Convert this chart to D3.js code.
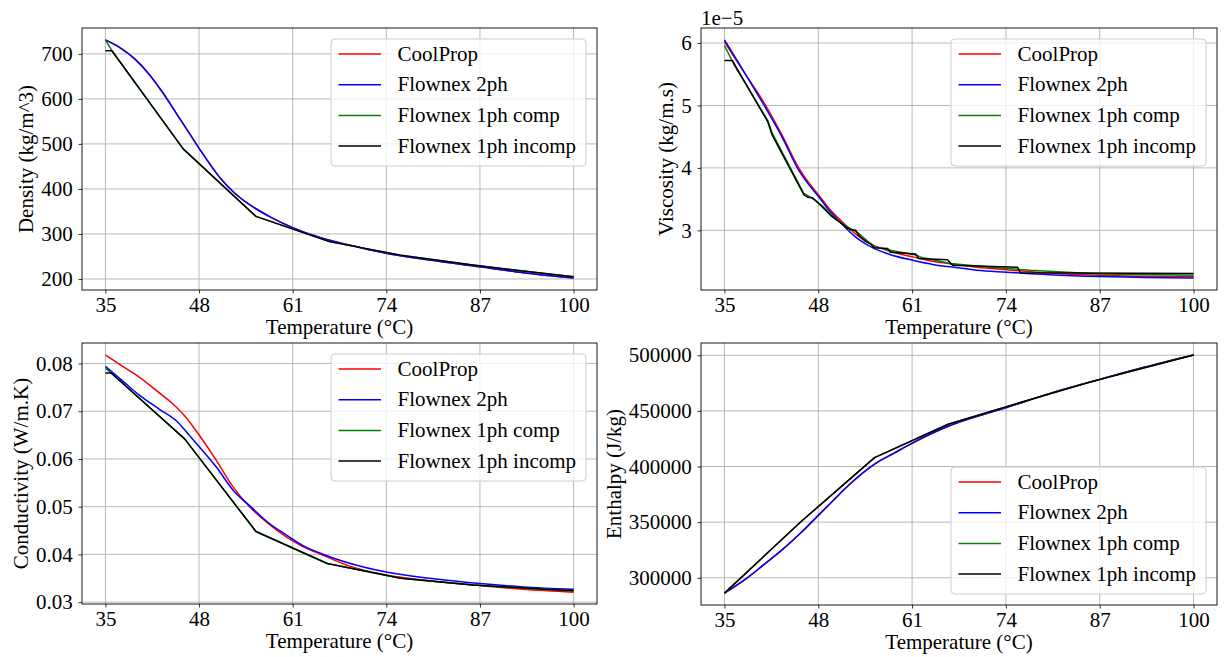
<!DOCTYPE html>
<html>
<head>
<meta charset="utf-8">
<script src="https://cdn.jsdelivr.net/npm/d3@7"></script>
<style>
  html, body { margin: 0; padding: 0; background: #fff; }
  svg { display: block; font-family: "Liberation Serif", "Times New Roman", serif; }
</style>
</head>
<body>
<svg id="fig" width="1225" height="657"></svg>
<script>
// ---------- shared axis values ----------
const tempTicks = [35, 48, 61, 74, 87, 100];
const seriesNames = ["CoolProp", "Flownex 2ph", "Flownex 1ph comp", "Flownex 1ph incomp"];
const seriesColors = ["#ff0000", "#0000ff", "#008000", "#000000"];

// ---------- density (kg/m^3) ----------
const densityT          = [35, 37, 39, 41, 43, 45, 47, 48.1, 50.9, 53, 55.9, 58, 61, 63.5, 66.1, 70, 74, 80, 87, 93, 100];
const densityCoolProp   = [731, 714, 690, 656, 613, 564, 515, 488, 425, 390, 356, 337, 314, 299, 286, 271, 257, 242, 227, 214, 202];
const densityFlownex2ph = [731, 714, 690, 656, 613, 564, 515, 488, 425, 390, 356, 337, 314, 299, 286, 271, 257, 242, 227, 214, 202];
const densityOnePhT     = [35, 35.9, 45.8, 55.9, 66.1, 76, 86, 96, 100];
const densityComp       = [731, 707, 489, 339, 283, 253, 231, 212, 205];
const densityIncomp     = [707, 707, 489, 339, 283, 253, 231, 212, 205];
const densityTicks      = [200, 300, 400, 500, 600, 700];

// ---------- viscosity (1e-5 kg/m.s) ----------
const viscosityT          = [35, 37.5, 40.5, 43, 45.3, 46.5, 48.1, 49.5, 51.1, 53.4, 55.7, 58, 61.1, 64, 67.3, 70, 74.1, 80, 87, 93, 100];
const viscosityCoolProp   = [6.02, 5.57, 5.04, 4.52, 4.00, 3.79, 3.56, 3.35, 3.16, 2.92, 2.76, 2.66, 2.575, 2.50, 2.45, 2.41, 2.37, 2.315, 2.28, 2.265, 2.255];
const viscosityFlownex2ph = [6.05, 5.58, 5.00, 4.49, 3.96, 3.76, 3.53, 3.32, 3.12, 2.87, 2.71, 2.61, 2.52, 2.45, 2.40, 2.36, 2.33, 2.29, 2.26, 2.245, 2.235];
const viscosityCompT      = [35, 36.3, 41, 41.6, 46, 47.2, 48.6, 50, 52, 53.5, 55.7, 58, 61.7, 62.2, 66.3, 71.9, 77.4, 87, 100];
const viscosityComp       = [5.96, 5.66, 4.76, 4.56, 3.59, 3.51, 3.39, 3.22, 3.06, 2.96, 2.74, 2.68, 2.60, 2.57, 2.47, 2.41, 2.36, 2.30, 2.28];
const viscosityIncompT    = [35, 36.1, 41, 41.6, 46.0, 46.5, 47.2, 47.6, 48.6, 49.7, 51.1, 52.0, 52.5, 53.2, 53.6, 54.6, 55.3, 55.7, 57.6, 58.0, 61.5, 61.9, 65.9, 66.6, 75.6, 76.0, 100];
const viscosityIncomp     = [5.72, 5.72, 4.74, 4.53, 3.57, 3.53, 3.52, 3.48, 3.37, 3.24, 3.12, 3.04, 3.01, 3.00, 2.92, 2.82, 2.78, 2.72, 2.71, 2.65, 2.62, 2.55, 2.53, 2.44, 2.41, 2.32, 2.31];
const viscosityTicks      = [3, 4, 5, 6];

// ---------- conductivity (W/m.K) ----------
const conductivityT          = [35, 37.5, 39.75, 42, 44.6, 46.2, 48.06, 50.4, 52.7, 55.0, 57.5, 60.1, 62.5, 65.1, 68.8, 74, 80, 87, 93, 100];
const conductivityCoolProp   = [0.0818, 0.0793, 0.0771, 0.0744, 0.0712, 0.0687, 0.0649, 0.0597, 0.0542, 0.0500, 0.0466, 0.0437, 0.0416, 0.0399, 0.0376, 0.0357, 0.0345, 0.0335, 0.0327, 0.0321];
const conductivity2phT       = [35, 37.5, 39.75, 42.5, 45.05, 46.5, 48.06, 50.4, 52.7, 55.4, 57.5, 60.1, 62.5, 65.1, 68.8, 74, 80, 87, 93, 100];
const conductivityFlownex2ph = [0.0794, 0.0762, 0.0733, 0.0704, 0.0677, 0.0652, 0.0625, 0.0583, 0.0535, 0.0497, 0.0468, 0.0441, 0.0418, 0.0401, 0.0382, 0.0363, 0.0350, 0.0339, 0.0332, 0.0327];
const conductivityOnePhT     = [35, 35.8, 46.0, 55.9, 65.8, 76, 86, 96, 100];
const conductivityComp       = [0.0790, 0.0780, 0.0642, 0.0448, 0.0381, 0.0350, 0.0336, 0.0327, 0.0324];
const conductivityIncomp     = [0.0780, 0.0780, 0.0642, 0.0448, 0.0381, 0.0350, 0.0336, 0.0327, 0.0324];
const conductivityTicks      = [0.03, 0.04, 0.05, 0.06, 0.07, 0.08];

// ---------- enthalpy (J/kg) ----------
const enthalpyT          = [35, 38.3, 40.5, 42.9, 45.7, 48.0, 50, 52.2, 55.9, 58.5, 60.9, 66.0, 69.7, 74.1, 80, 87.1, 93, 100];
const enthalpyCoolProp   = [286250, 300600, 312100, 324600, 341100, 356100, 369000, 383100, 402600, 412000, 420600, 436200, 444500, 453100, 465500, 478500, 489000, 500300];
const enthalpyFlownex2ph = [286250, 300600, 312100, 324600, 341100, 356100, 369000, 383100, 402600, 412000, 420600, 436200, 444500, 453100, 465500, 478500, 489000, 500300];
const enthalpyOnePhT     = [35, 45.7, 55.8, 66.0, 76, 86, 96, 100];
const enthalpyComp       = [286250, 351000, 408000, 438000, 457500, 476500, 493500, 500300];
const enthalpyIncomp     = [286250, 351000, 408000, 438000, 457500, 476500, 493500, 500300];
const enthalpyTicks      = [300000, 350000, 400000, 450000, 500000];

// ---------- panel definitions ----------
const zip = (a, b) => a.map((v, i) => [v, b[i]]);

const panels = [
  {
    box: { l: 82, t: 28, r: 597, b: 290 },
    yLabel: "Density (kg/m^3)", yTicks: densityTicks, fmt: d => String(d), legend: "upper",
    series: [
      { pts: zip(densityT, densityCoolProp), smooth: true },
      { pts: zip(densityT, densityFlownex2ph), smooth: true },
      { pts: zip(densityOnePhT, densityComp), smooth: false },
      { pts: zip(densityOnePhT, densityIncomp), smooth: false }
    ]
  },
  {
    box: { l: 701, t: 28, r: 1217, b: 290 },
    yLabel: "Viscosity (kg/m.s)", yTicks: viscosityTicks, fmt: d => String(d), legend: "upper",
    offsetText: "1e\u22125",
    series: [
      { pts: zip(viscosityT, viscosityCoolProp), smooth: true },
      { pts: zip(viscosityT, viscosityFlownex2ph), smooth: true },
      { pts: zip(viscosityCompT, viscosityComp), smooth: false },
      { pts: zip(viscosityIncompT, viscosityIncomp), smooth: false }
    ]
  },
  {
    box: { l: 82, t: 343, r: 597, b: 604 },
    yLabel: "Conductivity (W/m.K)", yTicks: conductivityTicks, fmt: d => d.toFixed(2), legend: "upper",
    series: [
      { pts: zip(conductivityT, conductivityCoolProp), smooth: true },
      { pts: zip(conductivity2phT, conductivityFlownex2ph), smooth: true },
      { pts: zip(conductivityOnePhT, conductivityComp), smooth: false },
      { pts: zip(conductivityOnePhT, conductivityIncomp), smooth: false }
    ]
  },
  {
    box: { l: 701, t: 343, r: 1217, b: 605 },
    yLabel: "Enthalpy (J/kg)", yTicks: enthalpyTicks, fmt: d => String(d), legend: "lower",
    series: [
      { pts: zip(enthalpyT, enthalpyCoolProp), smooth: true },
      { pts: zip(enthalpyT, enthalpyFlownex2ph), smooth: true },
      { pts: zip(enthalpyOnePhT, enthalpyComp), smooth: false },
      { pts: zip(enthalpyOnePhT, enthalpyIncomp), smooth: false }
    ]
  }
];

// ---------- drawing ----------
const svg = d3.select("#fig");
const FONT = 21;
const SERIF = "'Liberation Serif', 'Times New Roman', serif";

function paddedExtent(values) {
  const lo = d3.min(values), hi = d3.max(values), m = (hi - lo) * 0.05;
  return [lo - m, hi + m];
}

function drawPanel(p) {
  const { l, t, r, b } = p.box;
  const g = svg.append("g");

  const x = d3.scaleLinear()
    .domain(paddedExtent(p.series.flatMap(s => s.pts.map(d => d[0]))))
    .range([l, r]);
  const y = d3.scaleLinear()
    .domain(paddedExtent(p.series.flatMap(s => s.pts.map(d => d[1]))))
    .range([b, t]);

  // grid
  const grid = g.append("g").attr("stroke", "#b0b0b0").attr("stroke-width", 0.9);
  grid.selectAll("line.vx").data(tempTicks).join("line")
    .attr("x1", d => x(d)).attr("x2", d => x(d)).attr("y1", t).attr("y2", b);
  grid.selectAll("line.hy").data(p.yTicks).join("line")
    .attr("x1", l).attr("x2", r).attr("y1", d => y(d)).attr("y2", d => y(d));

  // axes
  const xAxis = g.append("g").attr("transform", `translate(0,${b})`)
    .call(d3.axisBottom(x).tickValues(tempTicks).tickSize(3.5).tickSizeOuter(0).tickPadding(4));
  const yAxis = g.append("g").attr("transform", `translate(${l},0)`)
    .call(d3.axisLeft(y).tickValues(p.yTicks).tickFormat(p.fmt).tickSize(3.5).tickSizeOuter(0).tickPadding(5.8));
  [xAxis, yAxis].forEach(a => {
    a.attr("font-family", SERIF).attr("font-size", FONT);
    a.select(".domain").remove();
    a.selectAll(".tick line").attr("stroke", "#000").attr("stroke-width", 0.8);
    a.selectAll(".tick text").attr("fill", "#000");
  });

  // curves
  const lineSmooth = d3.line().x(d => x(d[0])).y(d => y(d[1])).curve(d3.curveMonotoneX);
  const lineStraight = d3.line().x(d => x(d[0])).y(d => y(d[1]));
  p.series.forEach((s, i) => {
    g.append("path")
      .attr("d", (s.smooth ? lineSmooth : lineStraight)(s.pts))
      .attr("fill", "none")
      .attr("stroke", seriesColors[i])
      .attr("stroke-width", 1.5)
      .attr("stroke-linejoin", "round");
  });

  // frame
  g.append("rect").attr("x", l).attr("y", t).attr("width", r - l).attr("height", b - t)
    .attr("fill", "none").attr("stroke", "#000").attr("stroke-width", 0.9);

  // x label
  g.append("text").attr("x", (l + r) / 2).attr("y", b + 44)
    .attr("text-anchor", "middle").attr("font-size", FONT).text("Temperature (\u00B0C)");

  // y label, placed left of the widest tick label
  let minX = Infinity;
  yAxis.selectAll(".tick text").each(function () {
    const bb = this.getBBox();
    minX = Math.min(minX, l + bb.x);
  });
  g.append("text")
    .attr("transform", `translate(${minX - 8},${(t + b) / 2}) rotate(-90)`)
    .attr("text-anchor", "middle").attr("font-size", FONT).text(p.yLabel);

  if (p.offsetText) {
    g.append("text").attr("x", l).attr("y", t - 3.5).attr("font-size", FONT).text(p.offsetText);
  }

  // legend
  const lw = 255, lh = 127;
  const lx = r - 11 - lw;
  const ly = p.legend === "upper" ? t + 11 : b - 11 - lh;
  const lg = g.append("g").attr("transform", `translate(${lx},${ly})`);
  lg.append("rect").attr("width", lw).attr("height", lh).attr("rx", 4)
    .attr("fill", "#fff").attr("fill-opacity", 0.8)
    .attr("stroke", "#cccccc").attr("stroke-width", 1);
  seriesNames.forEach((name, i) => {
    const cy = 15 + i * 30.7;
    lg.append("line").attr("x1", 7.5).attr("x2", 50).attr("y1", cy).attr("y2", cy)
      .attr("stroke", seriesColors[i]).attr("stroke-width", 1.5);
    lg.append("text").attr("x", 66.6).attr("y", cy).attr("dy", "0.32em")
      .attr("font-size", FONT).text(name);
  });
}

panels.forEach(drawPanel);
</script>
</body>
</html>
